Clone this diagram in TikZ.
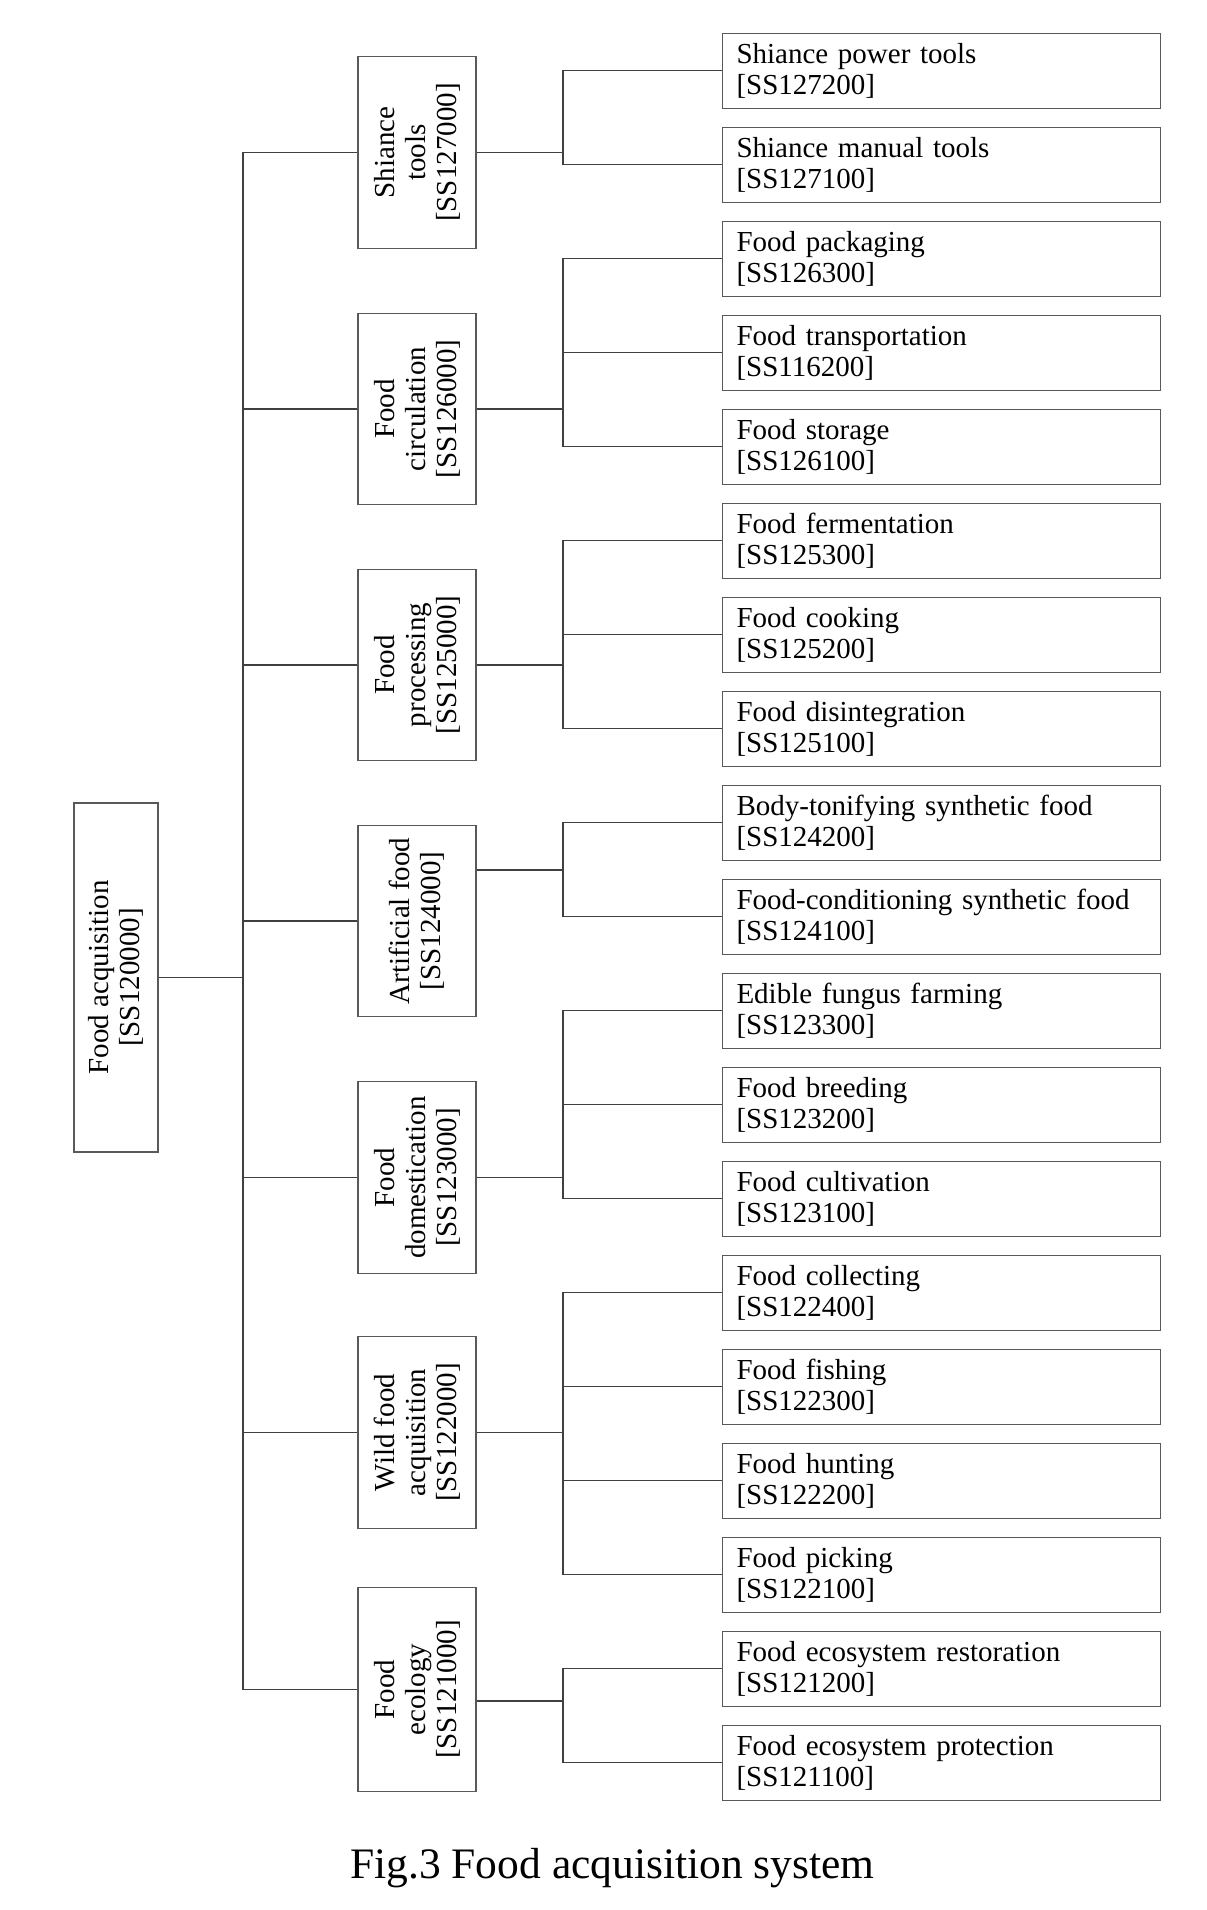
\documentclass[tikz,border=0pt]{standalone}
\usepackage{fontspec}
\setmainfont{Liberation Serif}
\usetikzlibrary{positioning}
\begin{document}
\begin{tikzpicture}[x=0.5pt,y=-0.5pt,
  every node/.style={font=\fontsize{14.5pt}{15.5pt}\selectfont},
  box/.style={draw=black!65,line width=0.55pt,inner sep=0pt},
  root/.style={box,rotate=90,align=center,minimum width=174.5pt,minimum height=42pt},
  mid/.style={box,rotate=90,align=center,minimum width=95.75pt,minimum height=59pt},
  leaf/.style={box,align=left,text width=205pt,inner xsep=7pt,minimum height=37.6pt},
  link/.style={draw=black!75,line width=0.55pt},
  node distance=8.85pt]
\useasboundingbox (0,0) rectangle (1206,1910);
\node[root] (acq) at (116,977.5) {Food acquisition\\{}[SS120000]};
\node[mid] (tools) at (417,152.5) {Shiance\\tools\\{}[SS127000]};
\node[mid] (circ) at (417,409) {Food\\circulation\\{}[SS126000]};
\node[mid] (proc) at (417,665) {Food\\processing\\{}[SS125000]};
\node[mid] (art) at (417,921) {Artificial food\\{}[SS124000]};
\node[mid] (dom) at (417,1177.5) {Food\\domestication\\{}[SS123000]};
\node[mid] (wild) at (417,1432.5) {Wild food\\acquisition\\{}[SS122000]};
\node[mid,minimum width=102.35pt] (eco) at (417,1689.5) {Food\\ecology\\{}[SS121000]};
\node[leaf] (pow) at (941.5,70.7) {Shiance power tools\\{}[SS127200]};
\node[leaf,below=of pow] (man) {Shiance manual tools\\{}[SS127100]};
\node[leaf,below=of man] (pack) {Food packaging\\{}[SS126300]};
\node[leaf,below=of pack] (trans) {Food transportation\\{}[SS116200]};
\node[leaf,below=of trans] (stor) {Food storage\\{}[SS126100]};
\node[leaf,below=of stor] (ferm) {Food fermentation\\{}[SS125300]};
\node[leaf,below=of ferm] (cook) {Food cooking\\{}[SS125200]};
\node[leaf,below=of cook] (disi) {Food disintegration\\{}[SS125100]};
\node[leaf,below=of disi] (body) {Body-tonifying synthetic food\\{}[SS124200]};
\node[leaf,below=of body] (cond) {Food-conditioning synthetic food\\{}[SS124100]};
\node[leaf,below=of cond] (fung) {Edible fungus farming\\{}[SS123300]};
\node[leaf,below=of fung] (breed) {Food breeding\\{}[SS123200]};
\node[leaf,below=of breed] (cult) {Food cultivation\\{}[SS123100]};
\node[leaf,below=of cult] (coll) {Food collecting\\{}[SS122400]};
\node[leaf,below=of coll] (fish) {Food fishing\\{}[SS122300]};
\node[leaf,below=of fish] (hunt) {Food hunting\\{}[SS122200]};
\node[leaf,below=of hunt] (pick) {Food picking\\{}[SS122100]};
\node[leaf,below=of pick] (rest) {Food ecosystem restoration\\{}[SS121200]};
\node[leaf,below=of rest] (prot) {Food ecosystem protection\\{}[SS121100]};
\node[font=\fontsize{21.75pt}{24pt}\selectfont,anchor=base] (cap) at (612.5,1878) {Fig.3 Food acquisition system};
\coordinate (tr) at (243,974);
\coordinate (br) at (563,0);
\draw[link] (acq.south) -- (acq.south -| tr);
\draw[link] (tools.north -| tr) -- (eco.north -| tr);
\draw[link] (tools.north) -- (tools.north -| tr);
\draw[link] (circ.north) -- (circ.north -| tr);
\draw[link] (proc.north) -- (proc.north -| tr);
\draw[link] (art.north) -- (art.north -| tr);
\draw[link] (dom.north) -- (dom.north -| tr);
\draw[link] (wild.north) -- (wild.north -| tr);
\draw[link] (eco.north) -- (eco.north -| tr);
\draw[link] (tools.south) -- (tools.south -| br);
\draw[link] (pow.west) -| (man.west -| br) -- (man.west);
\draw[link] (circ.south) -- (circ.south -| br);
\draw[link] (pack.west) -| (stor.west -| br) -- (stor.west);
\draw[link] (trans.west) -- (trans.west -| br);
\draw[link] (proc.south) -- (proc.south -| br);
\draw[link] (ferm.west) -| (disi.west -| br) -- (disi.west);
\draw[link] (cook.west) -- (cook.west -| br);
\draw[link] ([yshift=25.5pt]art.south) -- ([yshift=25.5pt]art.south -| br);
\draw[link] (body.west) -| (cond.west -| br) -- (cond.west);
\draw[link] (dom.south) -- (dom.south -| br);
\draw[link] (fung.west) -| (cult.west -| br) -- (cult.west);
\draw[link] (breed.west) -- (breed.west -| br);
\draw[link] (wild.south) -- (wild.south -| br);
\draw[link] (coll.west) -| (pick.west -| br) -- (pick.west);
\draw[link] (fish.west) -- (fish.west -| br);
\draw[link] (hunt.west) -- (hunt.west -| br);
\draw[link] ([yshift=-5.75pt]eco.south) -- ([yshift=-5.75pt]eco.south -| br);
\draw[link] (rest.west) -| (prot.west -| br) -- (prot.west);
\end{tikzpicture}
\end{document}
